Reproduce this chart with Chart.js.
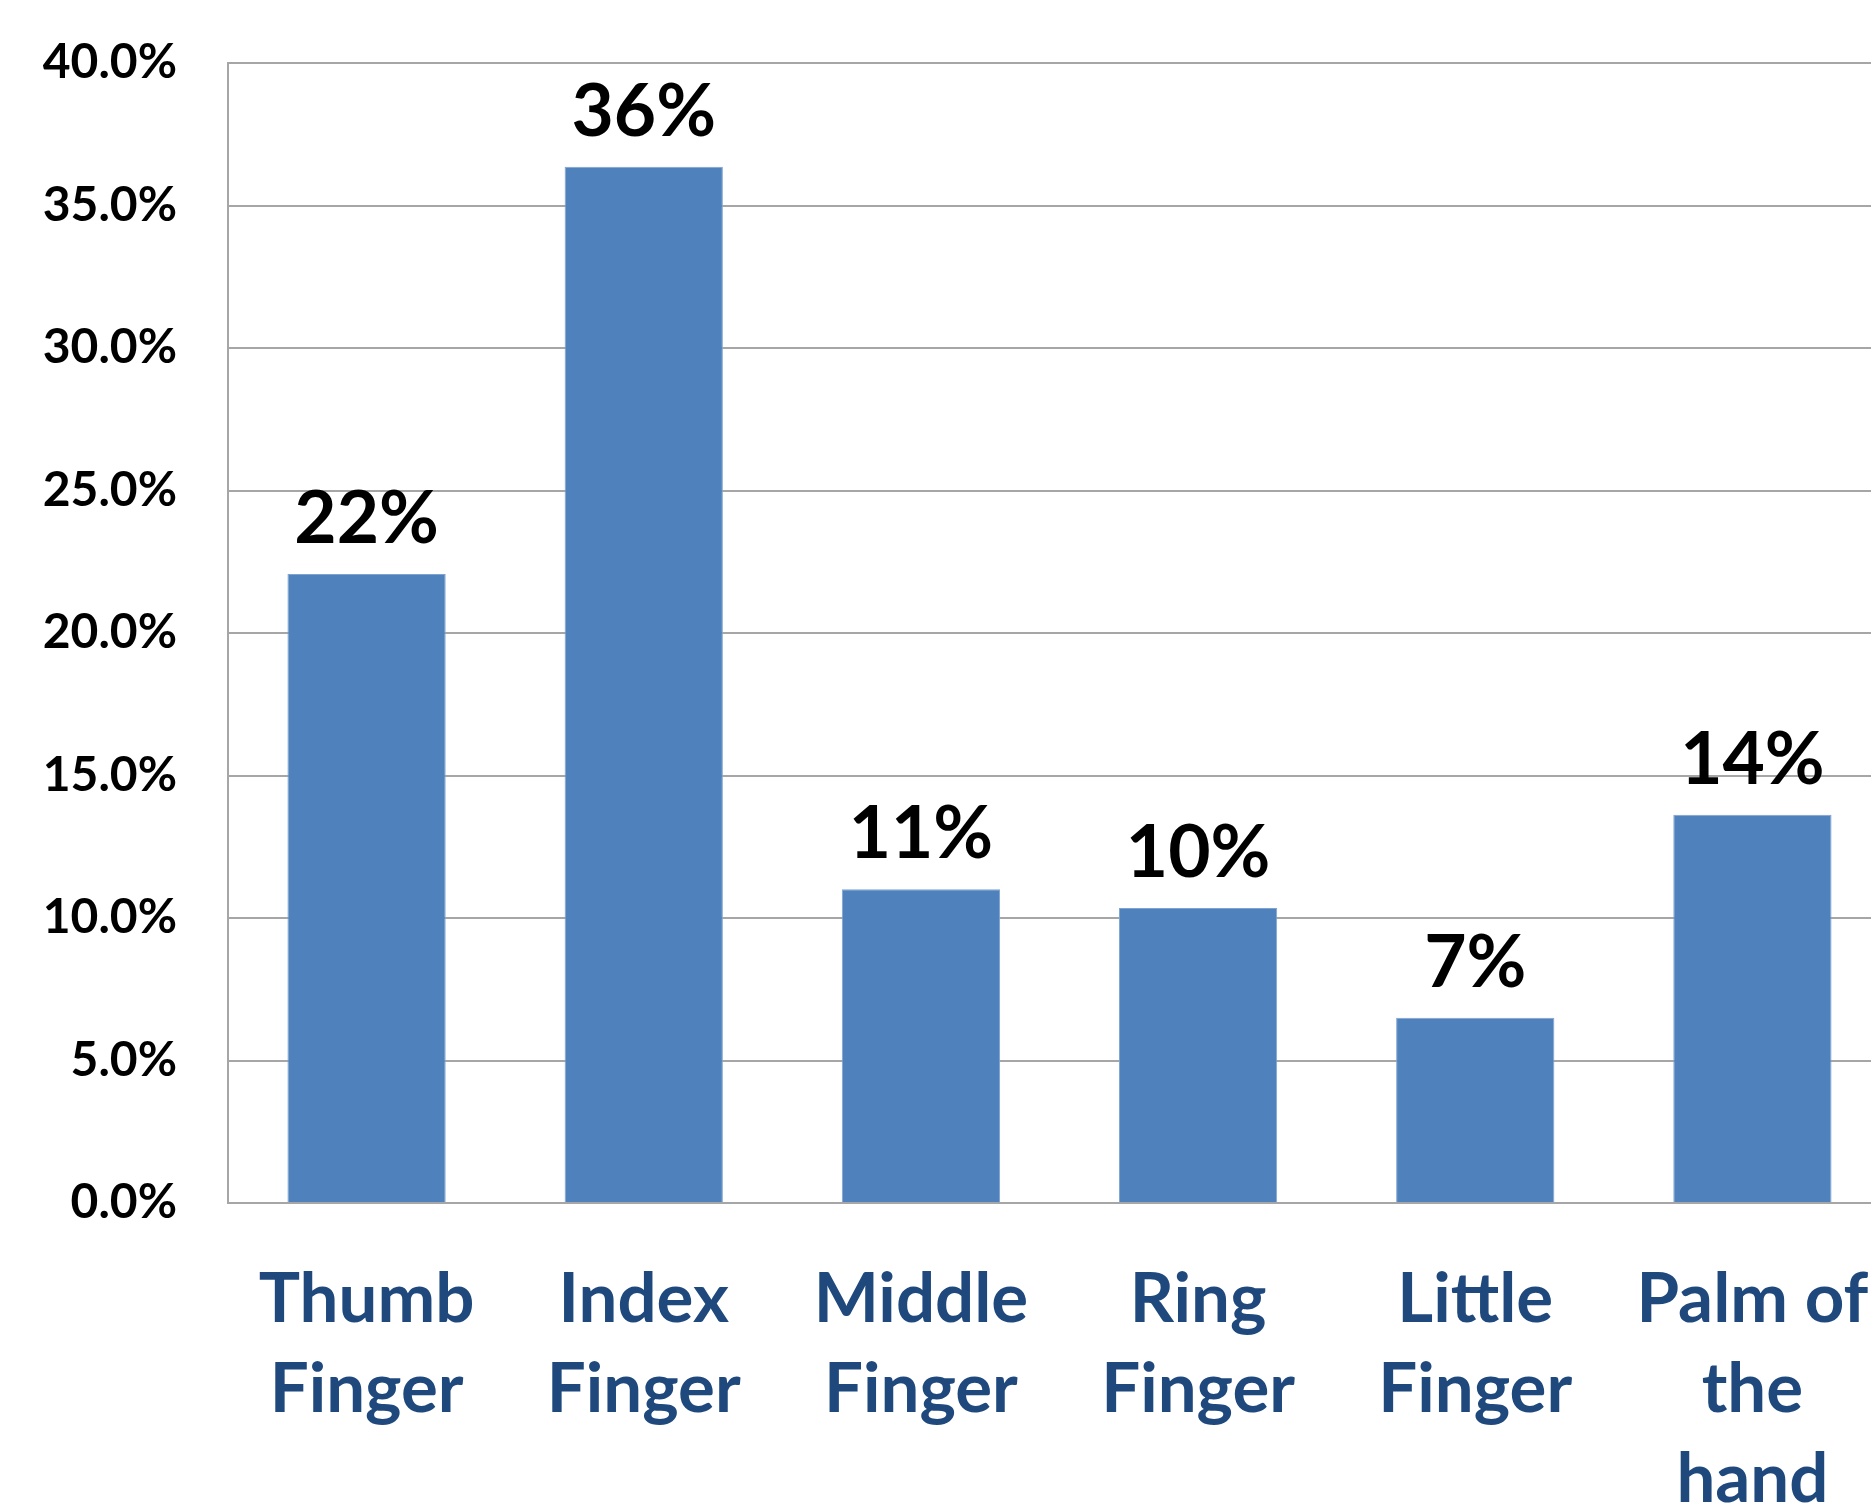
<!DOCTYPE html>
<html>
<head>
<meta charset="utf-8">
<script src="https://cdn.jsdelivr.net/npm/chart.js@4"></script>
<style>
  html, body { margin: 0; padding: 0; background: #fff; overflow: hidden; }
  #wrap { width: 1900px; height: 1560px; }
</style>
</head>
<body>
<div id="wrap"><canvas id="myChart" width="1900" height="1560"></canvas></div>
<script>
const categories = [
  ["Thumb", "Finger"],
  ["Index", "Finger"],
  ["Middle", "Finger"],
  ["Ring", "Finger"],
  ["Little", "Finger"],
  ["Palm of", "the", "hand"],
];
const shares = [22.07, 36.36, 11.01, 10.35, 6.5, 13.62];
const yTicks = [0, 5, 10, 15, 20, 25, 30, 35, 40];

const FONT = "Lato, 'Open Sans', sans-serif";

// value labels over the bars, rounded like the original
const barLabels = {
  id: "barLabels",
  afterDatasetsDraw(chart) {
    const ctx = chart.ctx;
    const meta = chart.getDatasetMeta(0);
    ctx.save();
    ctx.font = "bold 73px " + FONT;
    ctx.fillStyle = "#000";
    ctx.textAlign = "center";
    ctx.textBaseline = "alphabetic";
    meta.data.forEach((bar, i) => {
      ctx.fillText(Math.round(shares[i]) + "%", bar.x, bar.y - 31);
    });
    ctx.restore();
  },
};

const data = {
  labels: categories,
  datasets: [
    {
      data: shares,
      backgroundColor: "#4F81BD",
      borderColor: "#7FA3D0",
      borderWidth: 1,
      barPercentage: 0.571,
      categoryPercentage: 1,
    },
  ],
};

// keep tick padding from pushing the plot area inwards
function noEdgePadding(scale) {
  scale.paddingLeft = 0;
  scale.paddingRight = 0;
  scale.paddingTop = 0;
  scale.paddingBottom = 0;
}

const config = {
  type: "bar",
  data: data,
  options: {
    responsive: false,
    animation: false,
    layout: { padding: { top: 63, right: 9, bottom: 0, left: 0 } },
    plugins: { legend: { display: false }, tooltip: { enabled: false } },
    scales: {
      y: {
        min: 0,
        max: 40,
        afterFit(scale) { scale.width = 228; noEdgePadding(scale); },
        afterBuildTicks(scale) { scale.ticks = yTicks.map(v => ({ value: v })); },
        ticks: {
          padding: 51,
          color: "#000",
          font: { family: FONT, size: 48, weight: "bold" },
          callback: v => v.toFixed(1) + "%",
        },
        grid: { color: "#a6a6a6", lineWidth: 2, drawTicks: false },
        border: { color: "#a6a6a6", width: 2 },
      },
      x: {
        afterFit(scale) { scale.height = 357; noEdgePadding(scale); },
        ticks: {
          padding: 52,
          color: "#1F497D",
          maxRotation: 0,
          autoSkip: false,
          font: { family: FONT, size: 69, weight: "bold", lineHeight: "90px" },
        },
        grid: { display: false, drawTicks: false },
        border: { color: "#a6a6a6", width: 2 },
      },
    },
  },
  plugins: [barLabels],
};

const myChart = document.querySelector("#myChart");
const barChart = new Chart(myChart, config);
</script>
</body>
</html>
